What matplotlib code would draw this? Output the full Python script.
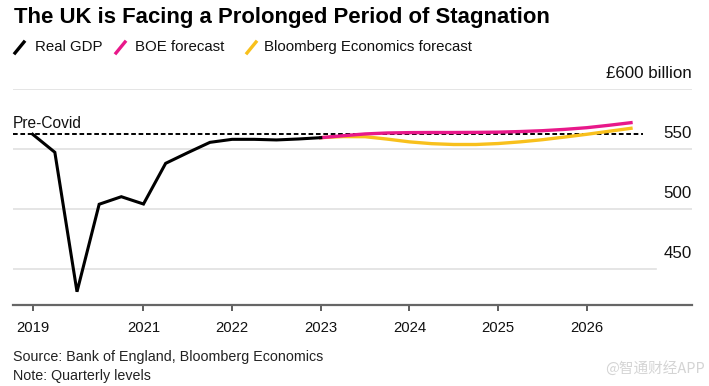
import matplotlib
matplotlib.use("Agg")
import matplotlib.pyplot as plt
from matplotlib.lines import Line2D
import pandas as pd

plt.rcParams['font.family'] = ['Liberation Sans', 'DejaVu Sans']

# quarterly levels, £ billion
gdp_quarters = pd.period_range("2019Q4", "2023Q1", freq="Q")
real_gdp = [562.5, 547.5, 431.3, 504.2, 510.5, 504.4, 538.3, 547.2,
            555.8, 558.3, 558.3, 557.8, 558.6, 559.7]

fc_quarters = pd.period_range("2023Q1", "2026Q3", freq="Q")
boe_forecast = [559.7, 561.3, 562.8, 563.6, 563.9, 564.0, 564.0, 564.1,
                564.3, 564.8, 565.5, 566.6, 568.0, 570.0, 572.2]
bbg_forecast = [559.7, 560.6, 560.5, 558.5, 556.2, 554.7, 554.0, 554.0,
                554.8, 556.2, 558.0, 560.2, 562.5, 565.0, 567.5]

pre_covid = 562.5
y_ticks = [450, 500, 550, 600]
y_labels = ["450", "500", "550", "£600 billion"]
x_ticks = [2019.75, 2021, 2022, 2023, 2024, 2025, 2026]
x_labels = ["2019", "2021", "2022", "2023", "2024", "2025", "2026"]

BLACK = "#000000"
PINK = "#e8188a"
YELLOW = "#f8c01c"
GRID = "#e0e0e0"


def to_year(periods):
    return [p.year + (p.quarter - 1) / 4 for p in periods]


W, H = 709, 386
fig = plt.figure(figsize=(W / 100, H / 100), dpi=100)
fig.patch.set_facecolor("white")

ax_l, ax_r, ax_b, ax_t = 13, 692, 305, 89.3
ax = fig.add_axes([ax_l / W, 1 - ax_b / H, (ax_r - ax_l) / W, (ax_b - ax_t) / H])
ax.set_xlim(2019.528, 2027.188)
ax.set_ylim(420.25, 600)

# gridlines, the 450 one stops short
for v in y_ticks:
    xmax = 0.947 if v == 450 else 1.0
    ax.axhline(v, xmin=0, xmax=xmax, color=GRID, lw=1.2, zorder=1)

for v, lab in zip(y_ticks, y_labels):
    ax.annotate(lab, xy=(1, v), xycoords=("axes fraction", "data"),
                xytext=(0, 11.5), textcoords="offset points",
                ha="right", va="center", fontsize=12.2, color="#111111")

ax.axhline(pre_covid, xmin=0, xmax=0.928, color=BLACK, lw=1.4,
           ls=(0, (2.4, 1.4)), zorder=2)
ax.annotate("Pre-Covid", xy=(0, pre_covid), xycoords=("axes fraction", "data"),
            xytext=(0, 7.5), textcoords="offset points",
            ha="left", va="center", fontsize=11.2, color="#111111")

ax.plot(to_year(gdp_quarters), real_gdp, color=BLACK, lw=2.2, zorder=4,
        solid_joinstyle="miter")
ax.plot(to_year(fc_quarters), bbg_forecast, color=YELLOW, lw=2.4, zorder=3)
ax.plot(to_year(fc_quarters), boe_forecast, color=PINK, lw=2.4, zorder=3)

for s in ["top", "right", "left"]:
    ax.spines[s].set_visible(False)
ax.spines["bottom"].set_color("#666666")
ax.spines["bottom"].set_linewidth(1.6)
ax.set_yticks([])
ax.set_xticks(x_ticks)
ax.set_xticklabels(x_labels, fontsize=10.7, color="#111111")
ax.tick_params(axis="x", direction="out", length=4, width=1.1,
               color="#333333", pad=7.5)

# title and legend
fig.text(14 / W, 1 - 18 / H, "The UK is Facing a Prolonged Period of Stagnation",
         fontsize=15.9, fontweight="bold", ha="left", va="center", color=BLACK)

legend = [("Real GDP", BLACK, 15, 35), ("BOE forecast", PINK, 116, 135),
          ("Bloomberg Economics forecast", YELLOW, 247, 264)]
for lab, col, sx, tx in legend:
    fig.add_artist(Line2D([sx / W, (sx + 9) / W], [1 - 53 / H, 1 - 42 / H],
                          color=col, lw=2.4, transform=fig.transFigure))
    fig.text(tx / W, 1 - 47 / H, lab, fontsize=10.8, ha="left", va="center",
             color="#111111")

fig.text(13 / W, 1 - 357 / H, "Source: Bank of England, Bloomberg Economics",
         fontsize=10.3, ha="left", va="center", color="#222222")
fig.text(13 / W, 1 - 376 / H, "Note: Quarterly levels",
         fontsize=10.3, ha="left", va="center", color="#222222")
fig.text(705 / W, 1 - 368 / H, "@智通财经APP", fontsize=10.5, ha="right",
         va="center", color="#d4d4d4",
         family=["Noto Sans CJK SC", "DejaVu Sans"])

fig.savefig("out.png", dpi=100)
